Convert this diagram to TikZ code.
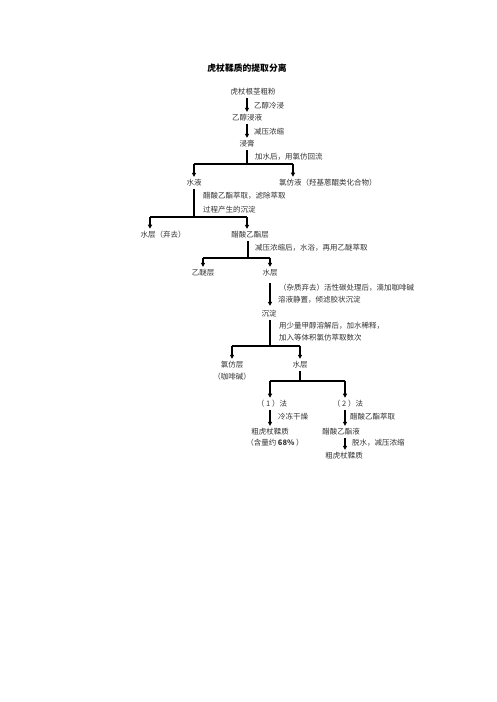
\documentclass[tikz,border=0pt]{standalone}
\usepackage{fontspec}
\setmainfont{Noto Sans CJK SC}
\usetikzlibrary{arrows.meta}
\begin{document}
\begin{tikzpicture}[x=1pt,y=-1pt,
  txt/.style={font=\fontsize{7.5}{9}\selectfont, text=black!80, inner sep=2.5pt},
  lbl/.style={txt, anchor=west, inner sep=0pt},
  ttl/.style={font=\bfseries\fontsize{8.8}{10}\selectfont, text=black},
  ln/.style={line width=1.1pt, draw=black},
  arr/.style={ln, -{Triangle[length=4pt,width=4pt]}}]
\useasboundingbox[fill=white] (0,0) rectangle (496,702);
\node[ttl] (title) at (247,68) {虎杖鞣质的提取分离};
% main column
\node[txt] (n1) at (253,92) {虎杖根茎粗粉};
\node[txt] (n2) at (247,118) {乙醇浸液};
\node[txt] (n3) at (247,144) {浸膏};
\node[txt] (n4) at (194,183) {水液};
\node[txt,anchor=west,inner xsep=0pt] (n5) at (279,183) {氯仿液（羟基蒽醌类化合物）};
\node[txt] (n6) at (163,235) {水层（弃去）};
\node[txt] (n7) at (250,235) {醋酸乙酯层};
\node[txt] (n8) at (203,273) {乙醚层};
\node[txt] (n9) at (270,273) {水层};
\node[txt] (n10) at (269,314) {沉淀};
\node[txt] (n11) at (232,365) {氯仿层};
\node[txt] (n11b) at (232,377) {（咖啡碱）};
\node[txt] (n12) at (300,365) {水层};
\node[txt] (n13) at (272,404) {（\ 1\ ）法};
\node[txt] (n14) at (270,432) {粗虎杖鞣质};
\node[txt] (n14b) at (275,443) {（含量约 \textbf{68\%} ）};
\node[txt] (n15) at (348,404) {（\ 2\ ）法};
\node[txt] (n16) at (341,432) {醋酸乙酯液};
\node[txt] (n17) at (344,456) {粗虎杖鞣质};
% step labels
\node[lbl] (s1) at (254,106) {乙醇冷浸};
\node[lbl] (s2) at (254,132) {减压浓缩};
\node[lbl] (s3) at (255,157) {加水后，用氯仿回流};
\node[lbl] (s4) at (203,196) {醋酸乙酯萃取，滤除萃取};
\node[lbl] (s4b) at (203,210) {过程产生的沉淀};
\node[lbl] (s5) at (255,248) {减压浓缩后，水浴，再用乙醚萃取};
\node[lbl] (s6) at (279,288) {（杂质弃去）活性碳处理后，滴加咖啡碱};
\node[lbl] (s6b) at (278,300) {溶液静置，倾滤胶状沉淀};
\node[lbl] (s7) at (279,326) {用少量甲醇溶解后，加水稀释，};
\node[lbl] (s7b) at (279,338) {加入等体积氯仿萃取数次};
\node[lbl] (s8) at (278,417) {冷冻干燥};
\node[lbl] (s9) at (350,417) {醋酸乙酯萃取};
\node[lbl] (s10) at (352,443) {脱水，减压浓缩};
% junction points
\coordinate (j1) at (247,164);
\coordinate (l1) at (194,164);
\coordinate (r1) at (293,164);
\coordinate (j2) at (194,217);
\coordinate (l2) at (150,217);
\coordinate (r2) at (247,217);
\coordinate (j3) at (248,258);
\coordinate (l3) at (203,258);
\coordinate (r3) at (270,258);
\coordinate (j4) at (270,346);
\coordinate (l4) at (232,346);
\coordinate (r4) at (300,346);
\coordinate (j5) at (300,381);
\coordinate (l5) at (270,381);
\coordinate (r5) at (345,381);
% connectors
\draw[arr] (n1.south -| j1) -- (n2.north -| j1);
\draw[arr] (n2.south -| j1) -- (n3.north -| j1);
\draw[ln] (n3.south) -- (j1);
\draw[ln] (l1) -- (r1);
\draw[arr] (l1) -- (n4.north -| l1);
\draw[arr] (r1) -- (r1 |- n5.north);
\draw[ln] (n4.south) -- (j2);
\draw[ln] (l2) -- (r2);
\draw[arr] (l2) -- (l2 |- n6.north);
\draw[arr] (r2) -- (r2 |- n7.north);
\draw[ln] (n7.south -| j3) -- (j3);
\draw[ln] (l3) -- (r3);
\draw[arr] (l3) -- (n8.north -| l3);
\draw[arr] (r3) -- (n9.north -| r3);
\draw[arr, shorten <=4pt, shorten >=2pt] (n9.south) -- (n10.north -| n9.south);
\draw[ln] (n10.south -| j4) -- (j4);
\draw[ln] (l4) -- (r4);
\draw[arr] (l4) -- (n11.north -| l4);
\draw[arr] (r4) -- (n12.north -| r4);
\draw[ln] (n12.south) -- (j5);
\draw[ln] (l5) -- (r5);
\draw[arr] (l5) -- (n13.north -| l5);
\draw[arr] (r5) -- (n15.north -| r5);
\draw[arr] (n13.south -| l5) -- (n14.north -| l5);
\draw[arr] (n15.south -| r5) -- (n16.north -| r5);
\draw[arr] (n16.south -| r5) -- (n17.north -| r5);
\end{tikzpicture}
\end{document}
